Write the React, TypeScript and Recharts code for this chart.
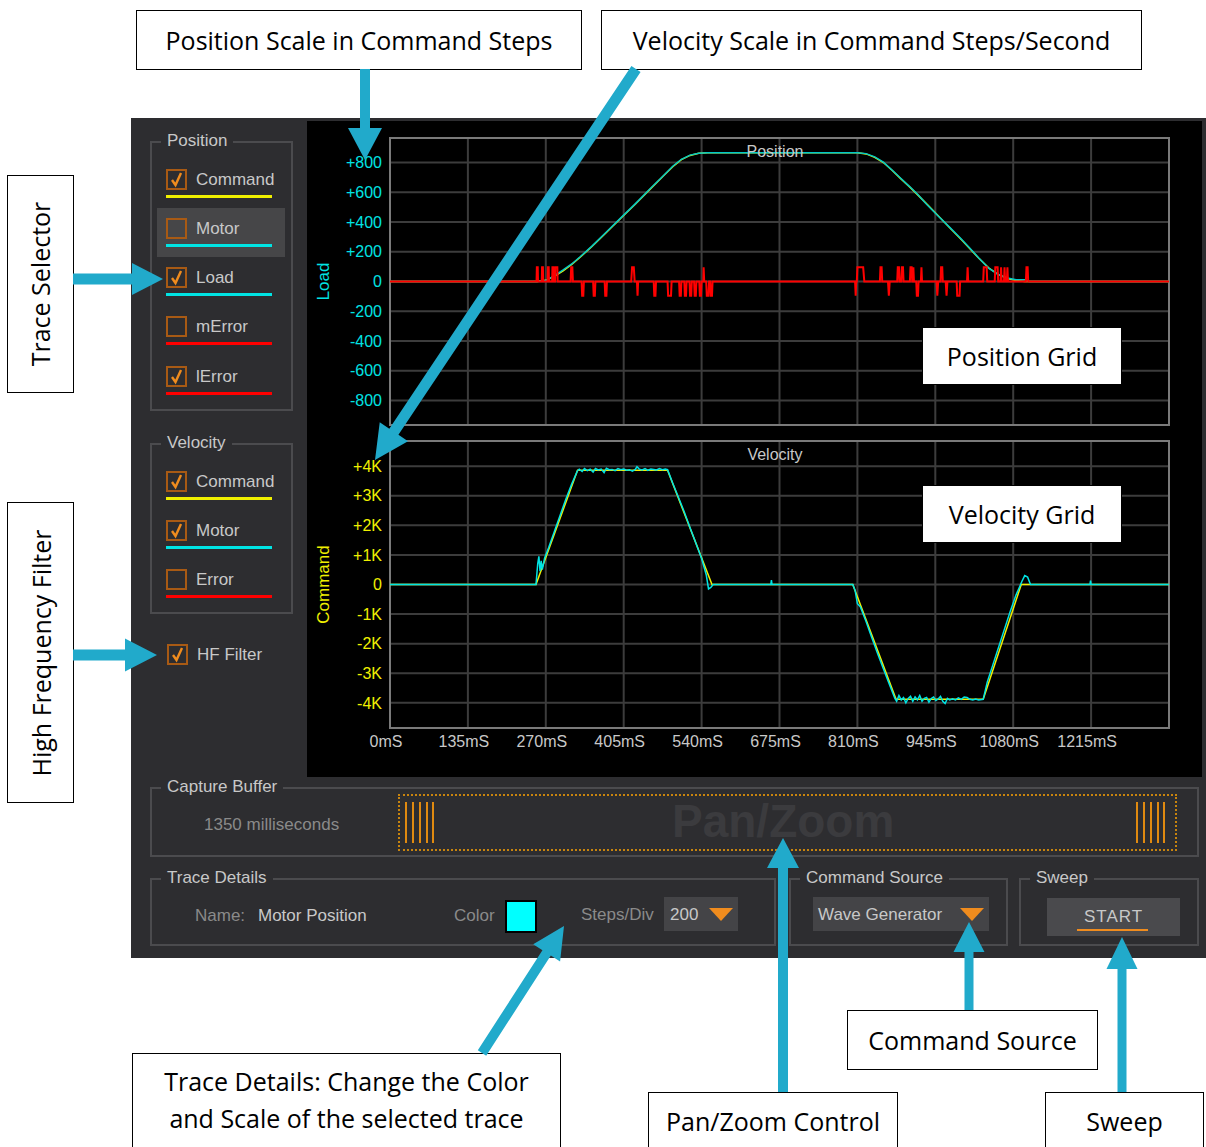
import React from 'react';
import { LineChart, Line, XAxis, YAxis, CartesianGrid, ReferenceArea } from 'recharts';

// time axis (ms) shared by both grids
const timeTicks = [0, 135, 270, 405, 540, 675, 810, 945, 1080, 1215, 1350];
const timeLabels = ['0mS', '135mS', '270mS', '405mS', '540mS', '675mS', '810mS', '945mS', '1080mS', '1215mS', ''];

const positionTicks = [800, 600, 400, 200, 0, -200, -400, -600, -800];
const positionLabels = ['+800', '+600', '+400', '+200', '0', '-200', '-400', '-600', '-800'];

const velocityTicks = [4000, 3000, 2000, 1000, 0, -1000, -2000, -3000, -4000];
const velocityLabels = ['+4K', '+3K', '+2K', '+1K', '0', '-1K', '-2K', '-3K', '-4K'];

// position traces (command steps)
const posTime = [0, 255, 270, 285, 300, 315, 330, 350, 375, 400, 425, 450, 475, 490, 505, 520, 535, 550, 810, 825, 840, 855, 870, 885, 900, 915, 930, 950, 970, 990, 1005, 1020, 1038, 1055, 1070, 1085, 1100, 1108, 1350];
const posCommand = [0, 0, 8, 35, 72, 115, 165, 235, 330, 425, 520, 618, 714, 772, 820, 848, 862, 866, 866, 858, 835, 800, 748, 692, 638, 581, 522, 442, 362, 282, 220, 158, 90, 45, 20, 6, 0, 0, 0];
const posLoad = [0, 0, 6, 40, 78, 118, 168, 238, 333, 428, 522, 620, 716, 775, 822, 850, 863, 866, 866, 860, 838, 803, 750, 694, 640, 583, 520, 440, 364, 286, 223, 160, 88, 45, 24, 12, 12, 0, 0];

// load error trace [ms, steps]
const loadError: [number, number][] = [
  [0, 0],
  [254, 0], [254.5, 95], [256, 95], [256.5, 0],
  [263, 0], [263.5, 95], [265, 95], [265.5, 0],
  [273, 0], [273.5, 95], [275, 95], [275.5, 0],
  [281, 0], [281.5, 95], [283, 95], [283.5, 0],
  [286, 0], [286.5, 95], [290, 95], [290.5, 0],
  [313, 0], [314, 95], [316, 95], [317, 0],
  [332, 0], [333, -95], [335, -95], [336, 0],
  [352, 0], [353, -95], [355, -95], [356, 0],
  [372, 0], [373, -95], [375, -95], [376, 0],
  [418, 0], [419.5, 95], [422.5, 95], [424, 0],
  [428, 0], [429, -95], [430, 0],
  [457, 0], [458, -95], [460, -95], [461, 0],
  [481, 0], [482, -95], [487, -95], [488, 0],
  [501, 0], [502, -95], [504, -95], [505, 0],
  [510, 0], [511, -95], [513, -95], [514, 0],
  [519, 0], [520, -95], [522, -95], [523, 0],
  [527, 0], [528, -95], [530, -95], [531, 0],
  [536, 0], [537, -95], [539, -95], [540, 0],
  [543, 0], [543.5, 95], [544.5, 0],
  [548, 0], [549, -95], [552, -95], [553, 0],
  [555, 0], [556, -95], [558, -95], [559, 0],
  [806, 0], [807, -95], [808, 0],
  [809, 0], [810, 95], [820, 95], [822, 0],
  [849, 0], [850, 95], [852, 95], [853, 0],
  [863, 0], [864.5, -95], [866, 0],
  [879, 0], [880, 95], [882, 95], [883, 0],
  [886, 0], [887, 95], [889, 95], [890, 0],
  [901, 0], [902, 95], [904, 95], [905, 0],
  [906, 0], [907, 95], [908, 0],
  [912, 0], [913, -95], [915, -95], [916, 0],
  [920, 0], [921, 95], [922, 0],
  [947, 0], [948.5, -95], [950, 0],
  [954, 0], [955, 95], [957, 95], [958, 0],
  [963, 0], [964.5, -95], [966, 0],
  [982, 0], [983, -95], [987, -95], [988, 0],
  [1000, 0], [1001, 95], [1002, 0],
  [1028, 0], [1029, 95], [1034, 95], [1035, 0],
  [1048, 0], [1049, 95], [1053, 95], [1054, 0],
  [1058, 0], [1059, 95], [1060, 0],
  [1064, 0], [1065, 95], [1066, 0],
  [1069, 0], [1070, 95], [1071, 0],
  [1102, 0], [1103, 95], [1105, 95], [1106, 0],
  [1350, 0],
];

// velocity traces (steps/second)
const velCmdTime = [0, 253, 325, 481, 558, 802, 877, 1028, 1094, 1350];
const velCommand = [0, 0, 3860, 3860, 0, 0, -3880, -3880, 0, 0];

const motorVelocity: [number, number][] = [
  [0, 0], [253, 0], [256, 700], [258, 950], [260, 450], [262, 800], [264, 500], [268, 900],
  [275, 1250], [285, 1800], [295, 2350], [305, 2900], [315, 3400], [325, 3850],
  [328, 3900], [333, 3820], [337, 3920], [342, 3850], [347, 3900], [352, 3800], [356, 3920],
  [361, 3870], [366, 3900], [371, 3780], [375, 3930], [380, 3880], [385, 3890], [390, 3850],
  [395, 3920], [400, 3880], [405, 3900], [410, 3860], [415, 3880], [420, 3830], [425, 3890],
  [428, 3980], [432, 3900], [437, 3870], [442, 3920], [447, 3860], [452, 3900], [457, 3890],
  [462, 3870], [467, 3920], [472, 3880], [477, 3900], [481, 3880],
  [490, 3420], [500, 2940], [510, 2450], [520, 1920], [530, 1400], [540, 880], [548, 330],
  [552, -150], [556, -100], [560, 0],
  [660, 0], [661, 150], [662, 0], [802, 0],
  [806, -200], [810, -650], [815, -750], [825, -1250], [835, -1800], [845, -2330], [855, -2850],
  [865, -3350], [875, -3850], [878, -3950],
  [882, -3750], [886, -3900], [890, -3820], [894, -4000], [898, -3850], [902, -3780], [906, -3950],
  [910, -3800], [914, -3900], [918, -3750], [922, -3950], [926, -3850], [930, -3820], [934, -3980],
  [938, -3850], [942, -3800], [946, -3920], [950, -3870], [954, -3780], [958, -3950], [962, -4020],
  [966, -3850], [970, -3900], [975, -3860], [980, -3900], [985, -3830], [990, -3880], [995, -3800],
  [1000, -3820], [1005, -3880], [1010, -3900], [1015, -3870], [1020, -3900], [1028, -3880],
  [1035, -3300], [1045, -2700], [1055, -2100], [1065, -1500], [1075, -900], [1085, -350],
  [1095, 100], [1100, 300], [1105, 250], [1110, 0],
  [1213, 0], [1214, 130], [1215, 0], [1350, 0],
];

const posCommandData = posTime.map((t, i) => ({ t, v: posCommand[i] }));
const posLoadData = posTime.map((t, i) => ({ t, v: posLoad[i] }));
const loadErrorData = loadError.map(([t, v]) => ({ t, v }));
const velCommandData = velCmdTime.map((t, i) => ({ t, v: velCommand[i] }));
const motorVelocityData = motorVelocity.map(([t, v]) => ({ t, v }));

const PANEL = '#2d2d30';
const TEXT = '#c8c8c8';
const DIM = '#8a8a8a';
const BORDER = '#4b4b4e';
const ORANGE = '#f08c1e';
const BLUE = '#21aacb';
const CYAN = '#00e4e4';
const YELLOW = '#f0f000';
const RED = '#ff0000';
const UI_FONT = '"Liberation Sans", Arial, sans-serif';
const NOTE_FONT = '"Open Sans", Lato, sans-serif';

function GroupBox({ left, top, width, height, title }: any) {
  return (
    <div
      style={{
        position: 'absolute', left, top, width, height, boxSizing: 'border-box',
        border: `2px solid ${BORDER}`,
      }}
    >
      <span
        style={{
          position: 'absolute', left: 9, top: -12, padding: '0 6px', background: PANEL,
          color: TEXT, fontSize: 17, lineHeight: '20px', whiteSpace: 'nowrap',
        }}
      >
        {title}
      </span>
    </div>
  );
}

function CheckBox({ left, top, checked }: any) {
  return (
    <div
      style={{
        position: 'absolute', left, top, width: 21, height: 21, boxSizing: 'border-box',
        border: '2px solid #a85a14',
      }}
    >
      {checked && (
        <svg width={17} height={17} style={{ position: 'absolute', left: 0, top: 0 }}>
          <path d="M4 9 L7.5 14 L13 2" fill="none" stroke={ORANGE} strokeWidth={2.4} />
        </svg>
      )}
    </div>
  );
}

function TraceItem({ top, label, color, checked, highlight }: any) {
  return (
    <>
      {highlight && (
        <div style={{ position: 'absolute', left: 157, top: top - 10, width: 128, height: 49, background: '#464648' }} />
      )}
      <CheckBox left={166} top={top} checked={checked} />
      <div style={{ position: 'absolute', left: 196, top: top, color: TEXT, fontSize: 17, lineHeight: '21px' }}>{label}</div>
      <div style={{ position: 'absolute', left: 166, top: top + 26, width: 106, height: 3, background: color }} />
    </>
  );
}

function Note({ x, y, w, h, children, vertical, lineHeight }: any) {
  return (
    <div
      style={{
        position: 'absolute', left: x, top: y, width: w, height: h, boxSizing: 'border-box',
        background: '#fff', border: '1.5px solid #000', display: 'flex', alignItems: 'center',
        justifyContent: 'center', fontFamily: NOTE_FONT, fontSize: 25, color: '#000', textAlign: 'center',
        lineHeight: lineHeight || 'normal',
      }}
    >
      <span style={{ whiteSpace: 'nowrap', transform: vertical ? 'rotate(-90deg)' : undefined }}>{children}</span>
    </div>
  );
}

function arrowPoints(x1: number, y1: number, x2: number, y2: number, w: number, hw: number, hl: number) {
  const dx = x2 - x1;
  const dy = y2 - y1;
  const len = Math.hypot(dx, dy);
  const ux = dx / len;
  const uy = dy / len;
  const px = -uy;
  const py = ux;
  const bx = x2 - ux * hl;
  const by = y2 - uy * hl;
  const pts = [
    [x1 + px * w / 2, y1 + py * w / 2],
    [bx + px * w / 2, by + py * w / 2],
    [bx + px * hw / 2, by + py * hw / 2],
    [x2, y2],
    [bx - px * hw / 2, by - py * hw / 2],
    [bx - px * w / 2, by - py * w / 2],
    [x1 - px * w / 2, y1 - py * w / 2],
  ];
  return pts.map((p) => p.join(',')).join(' ');
}

const arrows = [
  [365, 69, 365, 160, 10, 34, 32],
  [636, 69, 375, 460, 11, 34, 34],
  [73, 279, 163, 279, 11, 32, 31],
  [73, 655, 157, 655, 11, 33, 32],
  [783, 1092, 783, 838, 10, 32, 30],
  [969, 1010, 969, 922, 9, 31, 30],
  [1122, 1092, 1122, 937, 9, 31, 32],
  [482, 1053, 564, 926, 10, 32, 32],
];

const tickFont = { fontSize: 16, fontFamily: UI_FONT };

export default function App() {
  return (
    <div style={{ position: 'relative', width: 1206, height: 1147, background: '#fff', overflow: 'hidden', fontFamily: UI_FONT }}>
      <style>{'body{margin:0}'}</style>

      {/* application panel */}
      <div style={{ position: 'absolute', left: 131, top: 118, width: 1075, height: 840, background: PANEL }} />
      <div style={{ position: 'absolute', left: 307, top: 121, width: 895, height: 656, background: '#000' }} />

      {/* trace selector */}
      <GroupBox left={150} top={141} width={143} height={270} title="Position" />
      <TraceItem top={169} label="Command" color={YELLOW} checked />
      <TraceItem top={218} label="Motor" color={CYAN} highlight />
      <TraceItem top={267} label="Load" color={CYAN} checked />
      <TraceItem top={316} label="mError" color={RED} />
      <TraceItem top={366} label="lError" color={RED} checked />

      <GroupBox left={150} top={443} width={143} height={171} title="Velocity" />
      <TraceItem top={471} label="Command" color={YELLOW} checked />
      <TraceItem top={520} label="Motor" color={CYAN} checked />
      <TraceItem top={569} label="Error" color={RED} />

      <CheckBox left={167} top={644} checked />
      <div style={{ position: 'absolute', left: 197, top: 644, color: TEXT, fontSize: 17, lineHeight: '21px' }}>HF Filter</div>

      {/* position grid */}
      <div style={{ position: 'absolute', left: 307, top: 121 }}>
        <LineChart width={897} height={320} margin={{ top: 17, right: 35, bottom: 16, left: 0 }}>
          <CartesianGrid stroke="#3c3c3c" strokeWidth={2} />
          <XAxis type="number" dataKey="t" domain={[0, 1350]} ticks={timeTicks} interval={0} hide />
          <YAxis
            type="number"
            domain={[-965, 965]}
            ticks={positionTicks}
            interval={0}
            width={83}
            axisLine={false}
            tickLine={false}
            tick={{ ...tickFont, fill: CYAN }}
            tickFormatter={(v: number) => positionLabels[positionTicks.indexOf(v)]}
            label={{ value: 'Load', angle: -90, position: 'insideLeft', offset: 16, fill: CYAN, fontSize: 17, style: { textAnchor: 'middle', fill: CYAN } }}
          />
          <ReferenceArea x1={0} x2={1350} y1={-965} y2={965} fill="none" fillOpacity={0} stroke="#7a7a7a" strokeWidth={2} />
          <Line data={posCommandData} dataKey="v" type="linear" stroke={YELLOW} strokeWidth={1.5} dot={false} isAnimationActive={false} />
          <Line data={posLoadData} dataKey="v" type="linear" stroke="#00c8c8" strokeWidth={1.5} dot={false} isAnimationActive={false} />
          <Line data={loadErrorData} dataKey="v" type="linear" stroke={RED} strokeWidth={2} dot={false} isAnimationActive={false} />
        </LineChart>
      </div>
      <div style={{ position: 'absolute', left: 725, top: 142, width: 100, textAlign: 'center', color: TEXT, fontSize: 16, lineHeight: '20px' }}>Position</div>

      {/* velocity grid */}
      <div style={{ position: 'absolute', left: 307, top: 430 }}>
        <LineChart width={897} height={346} margin={{ top: 11, right: 35, bottom: 18, left: 0 }}>
          <CartesianGrid stroke="#3c3c3c" strokeWidth={2} />
          <XAxis
            type="number"
            dataKey="t"
            domain={[0, 1350]}
            ticks={timeTicks}
            interval={0}
            height={30}
            axisLine={false}
            tickLine={false}
            tick={{ ...tickFont, fill: TEXT, dx: -4 }}
            tickFormatter={(v: number) => timeLabels[timeTicks.indexOf(v)]}
          />
          <YAxis
            type="number"
            domain={[-4850, 4850]}
            ticks={velocityTicks}
            interval={0}
            width={83}
            axisLine={false}
            tickLine={false}
            tick={{ ...tickFont, fill: YELLOW }}
            tickFormatter={(v: number) => velocityLabels[velocityTicks.indexOf(v)]}
            label={{ value: 'Command', angle: -90, position: 'insideLeft', offset: 16, fill: YELLOW, fontSize: 17, style: { textAnchor: 'middle', fill: YELLOW } }}
          />
          <ReferenceArea x1={0} x2={1350} y1={-4850} y2={4850} fill="none" fillOpacity={0} stroke="#7a7a7a" strokeWidth={2} />
          <Line data={velCommandData} dataKey="v" type="linear" stroke={YELLOW} strokeWidth={1.5} dot={false} isAnimationActive={false} />
          <Line data={motorVelocityData} dataKey="v" type="linear" stroke={CYAN} strokeWidth={1.5} dot={false} isAnimationActive={false} />
        </LineChart>
      </div>
      <div style={{ position: 'absolute', left: 725, top: 445, width: 100, textAlign: 'center', color: TEXT, fontSize: 16, lineHeight: '20px' }}>Velocity</div>

      {/* capture buffer */}
      <GroupBox left={150} top={787} width={1049} height={70} title="Capture Buffer" />
      <div style={{ position: 'absolute', left: 204, top: 814, color: DIM, fontSize: 17, lineHeight: '21px' }}>1350 milliseconds</div>
      <div style={{ position: 'absolute', left: 398, top: 794, width: 779, height: 57, boxSizing: 'border-box', border: '2px dotted #c8840e' }} />
      {[406, 413, 420, 427, 433, 1137, 1144, 1151, 1158, 1164].map((x) => (
        <div key={x} style={{ position: 'absolute', left: x - 1, top: 802, width: 2, height: 41, background: '#e08a10' }} />
      ))}
      <div style={{ position: 'absolute', left: 672, top: 796, width: 220, textAlign: 'center', color: '#3b3b3e', fontSize: 46, fontWeight: 'bold', lineHeight: '50px' }}>Pan/Zoom</div>

      {/* trace details */}
      <GroupBox left={150} top={878} width={626} height={68} title="Trace Details" />
      <div style={{ position: 'absolute', left: 195, top: 905, color: DIM, fontSize: 17, lineHeight: '21px' }}>Name:</div>
      <div style={{ position: 'absolute', left: 258, top: 905, color: TEXT, fontSize: 17, lineHeight: '21px' }}>Motor Position</div>
      <div style={{ position: 'absolute', left: 454, top: 905, color: DIM, fontSize: 17, lineHeight: '21px' }}>Color</div>
      <div style={{ position: 'absolute', left: 505, top: 900, width: 32, height: 33, boxSizing: 'border-box', background: '#00ffff', border: '2px solid #000' }} />
      <div style={{ position: 'absolute', left: 581, top: 904, color: DIM, fontSize: 17, lineHeight: '21px' }}>Steps/Div</div>
      <div style={{ position: 'absolute', left: 664, top: 897, width: 74, height: 34, background: '#444447' }} />
      <div style={{ position: 'absolute', left: 670, top: 904, color: TEXT, fontSize: 17, lineHeight: '21px' }}>200</div>
      <svg width={24} height={14} style={{ position: 'absolute', left: 709, top: 908 }}>
        <polygon points="0,0 24,0 12,13" fill={ORANGE} />
      </svg>

      {/* command source */}
      <GroupBox left={789} top={878} width={219} height={68} title="Command Source" />
      <div style={{ position: 'absolute', left: 813, top: 897, width: 176, height: 34, background: '#444447' }} />
      <div style={{ position: 'absolute', left: 818, top: 904, color: TEXT, fontSize: 17, lineHeight: '21px' }}>Wave Generator</div>
      <svg width={24} height={14} style={{ position: 'absolute', left: 960, top: 908 }}>
        <polygon points="0,0 24,0 12,13" fill={ORANGE} />
      </svg>

      {/* sweep */}
      <GroupBox left={1019} top={878} width={180} height={68} title="Sweep" />
      <div style={{ position: 'absolute', left: 1047, top: 898, width: 133, height: 38, background: '#4a4a4d' }} />
      <div style={{ position: 'absolute', left: 1047, top: 906, width: 133, textAlign: 'center', color: TEXT, fontSize: 17, lineHeight: '21px', letterSpacing: 1 }}>START</div>
      <div style={{ position: 'absolute', left: 1077, top: 929, width: 71, height: 2, background: ORANGE }} />

      {/* annotation boxes */}
      <Note x={136} y={10} w={446} h={60}>Position Scale in Command Steps</Note>
      <Note x={601} y={10} w={541} h={60}>Velocity Scale in Command Steps/Second</Note>
      <Note x={7} y={175} w={67} h={218} vertical>Trace Selector</Note>
      <Note x={7} y={502} w={67} h={301} vertical>High Frequency Filter</Note>
      <Note x={922} y={327} w={200} h={58}>Position Grid</Note>
      <Note x={922} y={485} w={200} h={58}>Velocity Grid</Note>
      <Note x={132} y={1053} w={429} h={110} lineHeight="37px">
        <span style={{ position: 'relative', top: -8 }}>Trace Details: Change the Color<br />and Scale of the selected trace</span>
      </Note>
      <Note x={847} y={1010} w={251} h={60}>Command Source</Note>
      <Note x={648} y={1092} w={250} h={70}><span style={{ position: 'relative', top: -6 }}>Pan/Zoom Control</span></Note>
      <Note x={1045} y={1092} w={159} h={70}><span style={{ position: 'relative', top: -6 }}>Sweep</span></Note>

      {/* arrows */}
      <svg width={1206} height={1147} style={{ position: 'absolute', left: 0, top: 0, pointerEvents: 'none' }}>
        {arrows.map((a, i) => (
          <polygon key={i} points={arrowPoints(a[0], a[1], a[2], a[3], a[4], a[5], a[6])} fill={BLUE} />
        ))}
      </svg>
    </div>
  );
}
